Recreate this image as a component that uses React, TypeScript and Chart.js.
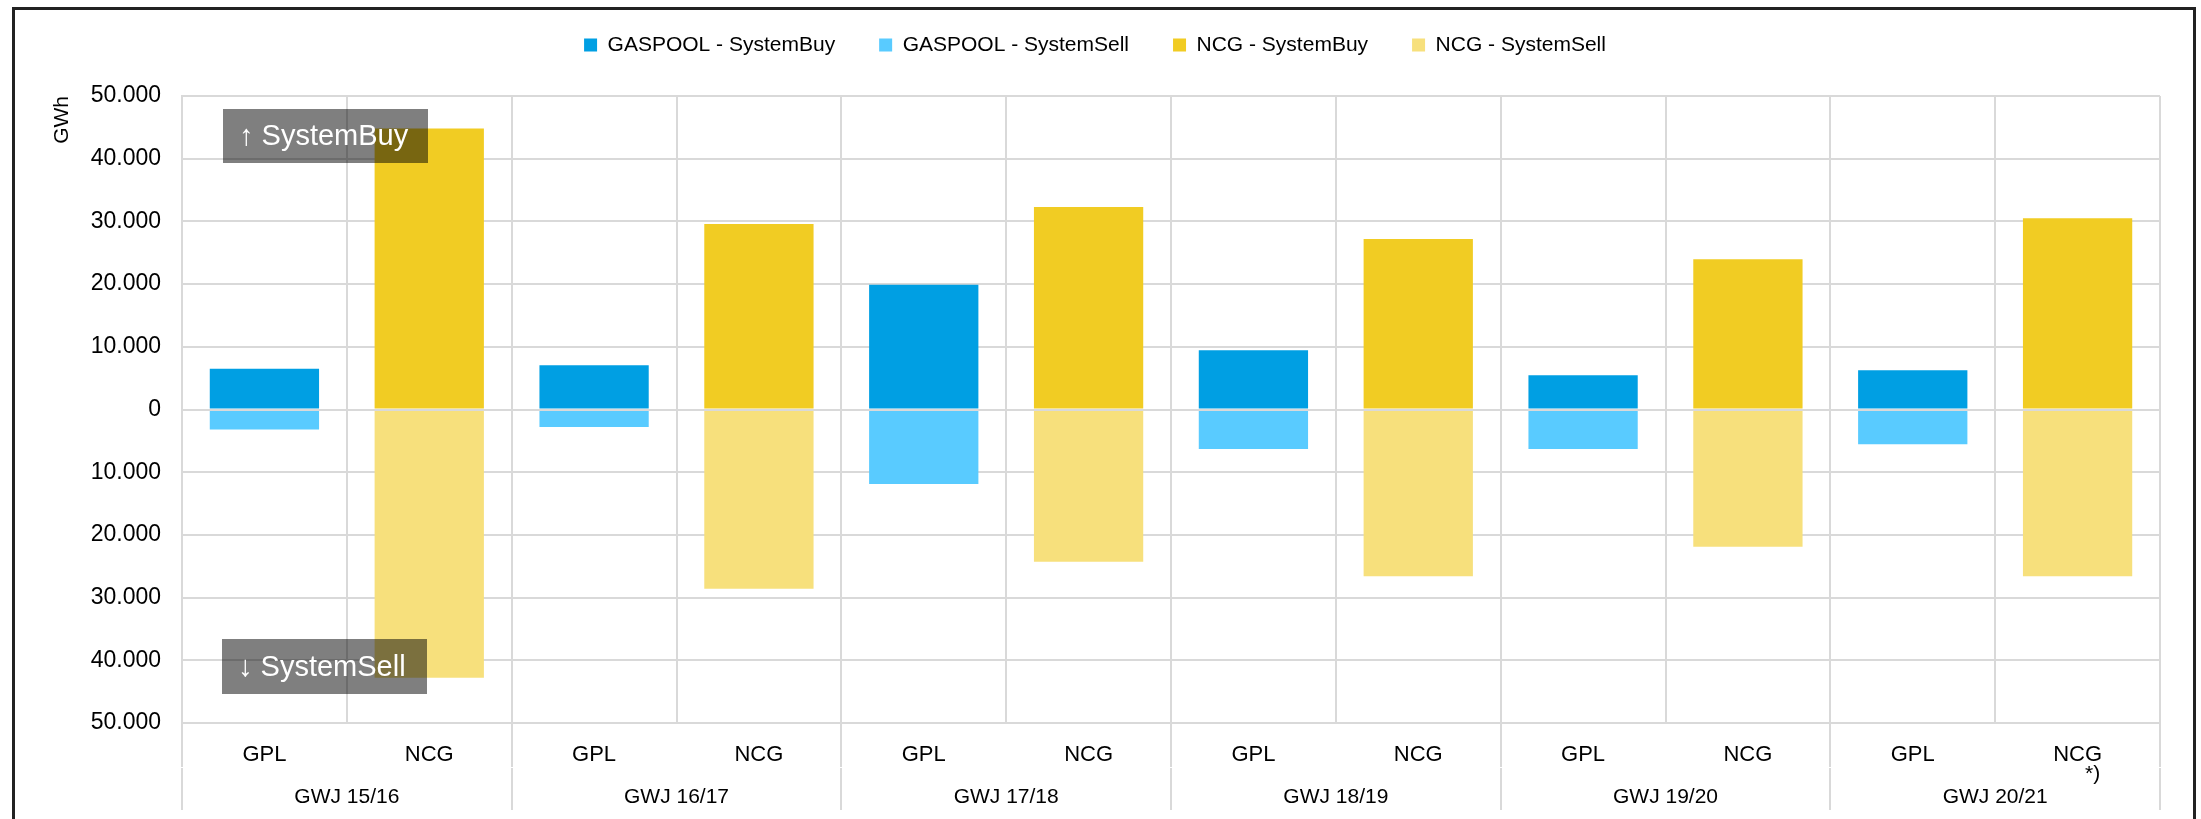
import React, { useEffect, useRef } from 'react';
import { Chart, registerables } from 'chart.js';

Chart.register(...registerables);

// ---- data ----
const years = ['GWJ 15/16', 'GWJ 16/17', 'GWJ 17/18', 'GWJ 18/19', 'GWJ 19/20', 'GWJ 20/21'];
const hubs = ['GPL', 'NCG'];
const footnote = '*)';
const seriesNames = ['GASPOOL - SystemBuy', 'GASPOOL - SystemSell', 'NCG - SystemBuy', 'NCG - SystemSell'];
const gaspoolBuy = [6500, 7050, 19900, 9450, 5450, 6250];
const gaspoolSell = [3200, 2800, 11900, 6300, 6300, 5550];
const ncgBuy = [44800, 29600, 32300, 27200, 23950, 30500];
const ncgSell = [42800, 28600, 24300, 26600, 21900, 26600];
const yMin = -50000;
const yMax = 50000;
const yStep = 10000;
const yTitle = 'GWh';
const noteBuy = '\u2191 SystemBuy';
const noteSell = '\u2193 SystemSell';

// ---- styles ----
const seriesColors = ['#009FE3', '#59CBFF', '#F1CC23', '#F7E07C'];
const gridColor = '#d9d9d9';
const FONT = '"Liberation Sans", Arial, Helvetica, sans-serif';

const subLabels: string[] = [];
years.forEach(() => {
  hubs.forEach((h) => subLabels.push(h));
});

function slot(values: number[], hubIndex: number, sign: number) {
  const out: (number | null)[] = [];
  years.forEach((_, yi) => {
    hubs.forEach((__, hi) => {
      out.push(hi === hubIndex ? sign * values[yi] : null);
    });
  });
  return out;
}

function fmt(v: number) {
  if (v === 0) return '0';
  return String(Math.abs(v)).replace(/\B(?=(\d{3})+(?!\d))/g, '.');
}

const overlayPlugin = {
  id: 'overlay',
  afterDatasetsDraw(chart: any) {
    const { ctx, chartArea, scales } = chart;
    const y0 = Math.round(scales.y.getPixelForValue(0));
    ctx.save();
    ctx.strokeStyle = gridColor;
    ctx.lineWidth = 2;
    ctx.beginPath();
    ctx.moveTo(chartArea.left, y0);
    ctx.lineTo(chartArea.right, y0);
    ctx.stroke();
    ctx.restore();
  },
  afterDraw(chart: any) {
    const { ctx, chartArea, scales } = chart;
    const boxes = [
      { text: noteBuy, x: chartArea.left + 41, y: chartArea.top + 13, w: 205, h: 54 },
      { text: noteSell, x: chartArea.left + 40, y: chartArea.bottom - 84, w: 205, h: 55 },
    ];
    ctx.save();
    boxes.forEach((b) => {
      ctx.fillStyle = 'rgba(0,0,0,0.5)';
      ctx.fillRect(b.x, b.y, b.w, b.h);
      ctx.fillStyle = '#ffffff';
      ctx.font = '29px ' + FONT;
      ctx.textBaseline = 'middle';
      ctx.textAlign = 'left';
      ctx.fillText(b.text, b.x + 16, b.y + b.h / 2 + 1);
    });
    // footnote marker under the last NCG label
    const lastIdx = subLabels.length - 1;
    ctx.fillStyle = '#000';
    ctx.font = '21px ' + FONT;
    ctx.textAlign = 'center';
    ctx.textBaseline = 'middle';
    ctx.fillText(footnote, scales.x.getPixelForValue(lastIdx) + 15, chartArea.bottom + 51);
    ctx.restore();
  },
};

export default function App() {
  const ref = useRef<HTMLCanvasElement>(null);
  useEffect(() => {
    document.body.style.overflow = 'hidden';
    Chart.defaults.font.family = FONT;
    Chart.defaults.color = '#000';
    const chart = new Chart(ref.current as HTMLCanvasElement, {
      type: 'bar',
      data: {
        labels: subLabels,
        datasets: [
          { label: seriesNames[0], data: slot(gaspoolBuy, 0, 1), backgroundColor: seriesColors[0] },
          { label: seriesNames[1], data: slot(gaspoolSell, 0, -1), backgroundColor: seriesColors[1] },
          { label: seriesNames[2], data: slot(ncgBuy, 1, 1), backgroundColor: seriesColors[2] },
          { label: seriesNames[3], data: slot(ncgSell, 1, -1), backgroundColor: seriesColors[3] },
        ] as any,
      },
      options: {
        responsive: false,
        devicePixelRatio: 1,
        animation: false,
        datasets: { bar: { barPercentage: 0.663, categoryPercentage: 1, borderWidth: 0 } } as any,
        layout: { padding: { top: -19.5, left: 15, right: 33, bottom: 9 } },
        plugins: {
          tooltip: { enabled: false },
          legend: {
            position: 'top',
            labels: { font: { size: 21 }, color: '#000', boxWidth: 13, boxHeight: 13, padding: 44 },
          },
          title: {
            display: true,
            text: '',
            position: 'top',
            weight: 0,
            font: { size: 1, lineHeight: 1 },
            padding: { top: 0, bottom: 29.5 },
          } as any,
        },
        scales: {
          x: {
            type: 'category',
            stacked: true,
            weight: 0,
            offset: true,
            grid: {
              offset: true,
              color: gridColor,
              lineWidth: 2,
              tickLength: 44,
              tickColor: (c: any) => (c.index === undefined || c.index % 2 === 0 ? gridColor : 'rgba(0,0,0,0)'),
            },
            border: { color: gridColor, width: 2 },
            ticks: { font: { size: 22 }, color: '#000', padding: -25.2, maxRotation: 0, autoSkip: false },
            afterFit: (s: any) => { s.height = 45; },
          },
          x2: {
            type: 'category',
            labels: years,
            position: 'bottom',
            weight: 1,
            offset: true,
            grid: { offset: true, drawOnChartArea: false, color: gridColor, lineWidth: 2, tickLength: 42 },
            border: { display: false },
            ticks: { font: { size: 21 }, color: '#000', padding: -25.6, maxRotation: 0, autoSkip: false },
            afterFit: (s: any) => { s.height = 42; },
          },
          y: {
            stacked: true,
            min: yMin,
            max: yMax,
            ticks: { stepSize: yStep, callback: (v: any) => fmt(Number(v)), font: { size: 23 }, color: '#000', padding: 21 },
            grid: { color: gridColor, lineWidth: 2, drawTicks: false },
            border: { color: gridColor, width: 2 },
            title: { display: true, text: yTitle, align: 'end', font: { size: 21 }, color: '#000', padding: { top: 19.4, bottom: 0 } },
            afterFit: (s: any) => { s.width = 152; },
          },
        } as any,
      },
      plugins: [overlayPlugin],
    });
    return () => chart.destroy();
  }, []);
  return (
    <div
      style={{
        position: 'fixed',
        left: 12,
        top: 7,
        width: 2184,
        height: 830,
        border: '3px solid #222',
        boxSizing: 'border-box',
        background: '#fff',
      }}
    >
      <canvas ref={ref} width={2178} height={809} style={{ display: 'block', width: 2178, height: 809 }} />
    </div>
  );
}
